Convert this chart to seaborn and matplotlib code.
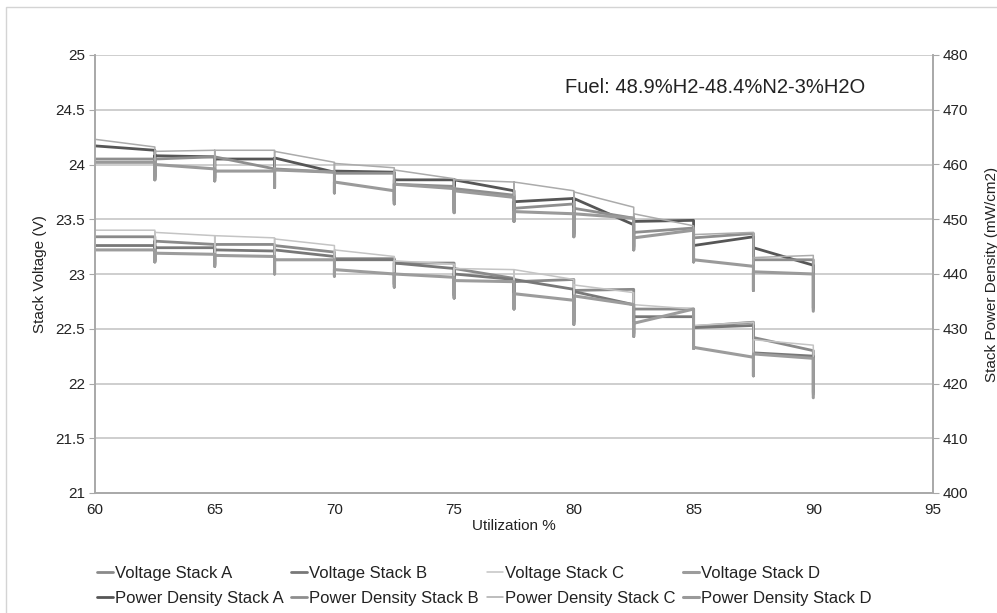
import matplotlib
matplotlib.use("Agg")
import matplotlib.pyplot as plt
from matplotlib.lines import Line2D
from matplotlib.patches import Rectangle
import seaborn as sns
import pandas as pd

sns.set_style("white")
plt.rcParams['font.family'] = ['Liberation Sans', 'DejaVu Sans']

# ---------------- data ----------------
utilization = [60, 62.5, 65, 67.5, 70, 72.5, 75, 77.5, 80, 82.5, 85, 87.5, 90]

# Voltage (V): value at start of each step (60..87.5), at end of each step (62.5..90), and transient dip at each step change (62.5..90)
volt_a_start = [23.34, 23.30, 23.27, 23.26, 23.14, 23.10, 23.05, 22.93, 22.85, 22.68, 22.52, 22.42]
volt_a_end   = [23.34, 23.27, 23.27, 23.20, 23.14, 23.10, 22.96, 22.95, 22.86, 22.68, 22.56, 22.30]
volt_a_dip   = [23.13, 23.09, 23.03, 23.00, 22.91, 22.81, 22.71, 22.57, 22.46, 22.35, 22.10, 21.92]

volt_b_start = [23.26, 23.24, 23.22, 23.22, 23.13, 23.10, 23.00, 22.95, 22.84, 22.61, 22.51, 22.28]
volt_b_end   = [23.26, 23.24, 23.21, 23.16, 23.13, 23.05, 22.95, 22.86, 22.72, 22.61, 22.53, 22.25]
volt_b_dip   = [23.12, 23.08, 23.02, 22.99, 22.90, 22.80, 22.70, 22.56, 22.45, 22.34, 22.09, 21.90]

volt_c_start = [23.40, 23.38, 23.35, 23.32, 23.22, 23.12, 23.05, 23.04, 22.90, 22.72, 22.53, 22.40]
volt_c_end   = [23.40, 23.35, 23.33, 23.26, 23.16, 23.09, 23.04, 22.95, 22.83, 22.68, 22.56, 22.35]
volt_c_dip   = [23.15, 23.10, 23.05, 23.02, 22.93, 22.83, 22.74, 22.60, 22.50, 22.38, 22.14, 21.95]

volt_d_start = [23.22, 23.19, 23.17, 23.13, 23.04, 23.00, 22.94, 22.82, 22.80, 22.55, 22.33, 22.27]
volt_d_end   = [23.22, 23.18, 23.16, 23.13, 23.00, 22.97, 22.93, 22.76, 22.72, 22.68, 22.24, 22.23]
volt_d_dip   = [23.11, 23.07, 23.00, 22.98, 22.88, 22.78, 22.68, 22.54, 22.43, 22.32, 22.07, 21.87]

# Power density (mW/cm2)
pd_a_start = [463.4, 461.6, 461.0, 461.2, 458.8, 457.2, 457.2, 453.2, 453.8, 449.6, 445.2, 444.8]
pd_a_end   = [462.6, 461.4, 461.0, 458.6, 458.6, 457.2, 455.2, 453.8, 449.0, 449.8, 446.8, 441.6]
pd_a_dip   = [457.8, 457.6, 456.4, 455.4, 453.4, 451.8, 450.2, 447.4, 445.0, 442.8, 437.6, 433.8]

pd_b_start = [461.0, 461.0, 461.4, 459.2, 458.4, 456.4, 455.6, 452.0, 452.0, 447.6, 446.6, 442.6]
pd_b_end   = [461.0, 461.4, 459.2, 458.6, 458.4, 456.0, 454.4, 452.8, 450.2, 448.4, 447.4, 442.6]
pd_b_dip   = [457.5, 457.3, 456.1, 455.1, 453.1, 451.5, 449.9, 447.1, 444.7, 442.5, 437.3, 433.5]

pd_c_start = [464.6, 462.4, 462.6, 462.4, 460.2, 459.0, 457.2, 456.8, 455.0, 451.0, 447.2, 443.0]
pd_c_end   = [463.2, 462.6, 462.6, 460.4, 459.4, 457.4, 456.8, 455.2, 452.2, 448.8, 447.6, 443.4]
pd_c_dip   = [458.2, 458.0, 456.8, 455.8, 453.8, 452.2, 450.6, 447.8, 445.4, 443.2, 438.0, 434.2]

pd_d_start = [460.4, 460.0, 458.8, 459.0, 456.8, 456.4, 455.2, 451.4, 451.0, 446.6, 442.6, 440.4]
pd_d_end   = [460.4, 459.2, 458.8, 458.6, 455.2, 455.6, 454.0, 451.0, 450.2, 448.0, 441.4, 440.0]
pd_d_dip   = [457.2, 457.0, 455.8, 454.8, 452.8, 451.2, 449.6, 446.8, 444.4, 442.2, 437.0, 433.2]

voltage_series = [
    ("Voltage Stack A", volt_a_start, volt_a_end, volt_a_dip, "#8a8a8a", 2.0),
    ("Voltage Stack B", volt_b_start, volt_b_end, volt_b_dip, "#787878", 2.0),
    ("Voltage Stack C", volt_c_start, volt_c_end, volt_c_dip, "#c4c4c4", 1.1),
    ("Voltage Stack D", volt_d_start, volt_d_end, volt_d_dip, "#9c9c9c", 2.2),
]
power_series = [
    ("Power Density Stack A", pd_a_start, pd_a_end, pd_a_dip, "#565656", 2.0),
    ("Power Density Stack B", pd_b_start, pd_b_end, pd_b_dip, "#8e8e8e", 2.0),
    ("Power Density Stack C", pd_c_start, pd_c_end, pd_c_dip, "#ababab", 1.1),
    ("Power Density Stack D", pd_d_start, pd_d_end, pd_d_dip, "#9a9a9a", 2.2),
]


def build_path(start, end, dip):
    xs = [utilization[0]]
    ys = [start[0]]
    for i in range(len(end)):
        xn = utilization[i + 1]
        xs += [xn, xn]
        ys += [end[i], dip[i]]
        if i + 1 < len(start):
            xs.append(xn)
            ys.append(start[i + 1])
    return pd.DataFrame({"util": xs, "value": ys})


W, H = 997, 613
fig = plt.figure(figsize=(W / 100, H / 100), dpi=100)
ax = fig.add_axes([95 / W, 1 - 493 / H, (933 - 95) / W, (493 - 55) / H])
ax2 = ax.twinx()

grid_c = "#c6c6c6"
spine_c = "#a8a8a8"

for name, s, e, d, c, lw in voltage_series:
    df = build_path(s, e, d)
    sns.lineplot(data=df, x="util", y="value", sort=False, estimator=None,
                 color=c, lw=lw, ax=ax, legend=False)
for name, s, e, d, c, lw in power_series:
    df = build_path(s, e, d)
    sns.lineplot(data=df, x="util", y="value", sort=False, estimator=None,
                 color=c, lw=lw, ax=ax2, legend=False)

ax.set_xlim(60, 95)
ax.set_ylim(21, 25)
ax2.set_ylim(400, 480)
ax.set_xticks([60, 65, 70, 75, 80, 85, 90, 95])
ax.set_yticks([21, 21.5, 22, 22.5, 23, 23.5, 24, 24.5, 25])
ax.set_yticklabels(["21", "21.5", "22", "22.5", "23", "23.5", "24", "24.5", "25"])
ax2.set_yticks(range(400, 481, 10))

ax.grid(False)
ax2.grid(False)
for yv in [21.5, 22, 22.5, 23, 23.5, 24, 24.5, 25]:
    ax.axhline(yv, color=grid_c, lw=1.2, zorder=0)

for a in (ax, ax2):
    a.spines["top"].set_visible(False)
    for sp in ("left", "right", "bottom"):
        a.spines[sp].set_color(spine_c)
        a.spines[sp].set_linewidth(1.2)
    a.tick_params(axis="both", direction="out", length=4, color=spine_c,
                  labelsize=11, labelcolor="#222222", pad=3)

ax.set_xlabel("Utilization %", fontsize=11, color="#222222", labelpad=2)
ax.set_ylabel("Stack Voltage (V)", fontsize=11, color="#222222", labelpad=6)
ax2.set_ylabel("Stack Power Density (mW/cm2)", fontsize=11, color="#222222", labelpad=12)

ax.text(0.561, 0.925, "Fuel: 48.9%H2-48.4%N2-3%H2O", transform=ax.transAxes,
        fontsize=14.5, color="#222222", ha="left", va="center")

# legend (column-major order -> two rows)
handles, labels = [], []
for v, p in zip(voltage_series, power_series):
    for name, s, e, d, c, lw in (v, p):
        handles.append(Line2D([0], [0], color=c, lw=lw))
        labels.append(name)
fig.legend(handles, labels, ncol=4, loc="center left",
           bbox_to_anchor=(90 / W, 1 - 586 / H), frameon=False, fontsize=12,
           handlelength=0.95, handletextpad=0.12, columnspacing=0.48,
           labelspacing=0.62, labelcolor="#222222", borderaxespad=0)

fig.add_artist(Rectangle((6 / W, -0.05), 1.0, (H - 7) / H + 0.05,
                         transform=fig.transFigure, fill=False,
                         edgecolor="#d4d4d4", lw=1.0))

fig.savefig("out.png", dpi=100)
